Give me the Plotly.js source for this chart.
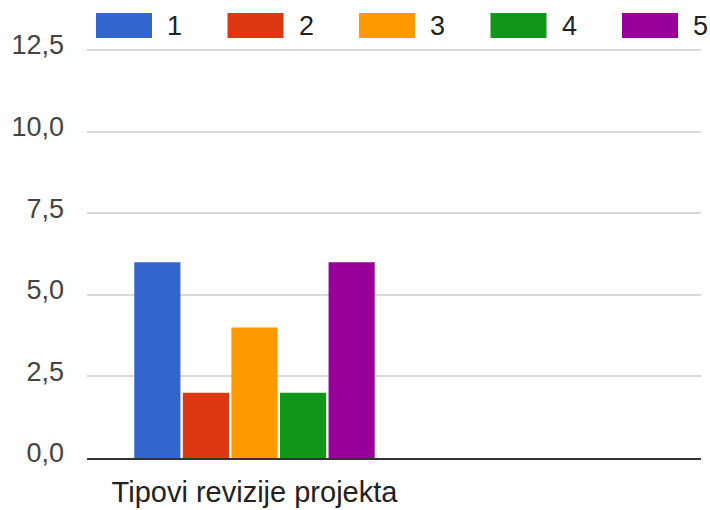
<!DOCTYPE html>
<html>
<head>
<meta charset="utf-8">
<script src="https://cdn.plot.ly/plotly-3.0.1.min.js"></script>
<style>html,body{margin:0;padding:0;background:#fff;}#chart{width:710px;height:510px;}</style>
</head>
<body>
<div id="chart"></div>
<script>
const categories = ["Tipovi revizije projekta"];
const seriesNames = ["1", "2", "3", "4", "5"];
const seriesValues = [[6], [2], [4], [2], [6]];
const seriesColors = ["#3366cc", "#dc3912", "#ff9900", "#109618", "#990099"];
const yTickVals = [0, 2.5, 5, 7.5, 10, 12.5];
const yTickText = ["0,0", "2,5", "5,0", "7,5", "10,0", "12,5"];

const W = 710, H = 510;
const M = {l: 87, r: 9, t: 46, b: 52};
const pw = W - M.l - M.r, ph = H - M.t - M.b;
const yMax = 12.5 * ph / 408;
const px = x => (x - M.l) / pw;
const py = y => (H - M.b - y) / ph;

const traces = seriesNames.map((n, i) => ({
  type: 'bar', name: n, x: categories, y: seriesValues[i],
  marker: {color: seriesColors[i], line: {width: 0}},
  hoverinfo: 'skip', showlegend: false
}));

const shapes = [];
const annotations = [];
seriesNames.forEach((n, i) => {
  const x0 = 96 + i * 131.5;
  shapes.push({type: 'rect', xref: 'paper', yref: 'paper',
    x0: px(x0), x1: px(x0 + 56), y0: py(38), y1: py(13),
    fillcolor: seriesColors[i], line: {width: 0}});
  annotations.push({xref: 'paper', yref: 'paper', x: px(x0 + 69), y: py(25.5),
    xanchor: 'left', yanchor: 'middle', text: n, showarrow: false,
    font: {family: 'Arial, Liberation Sans, sans-serif', size: 27, color: '#222'}});
});

const layout = {
  width: W, height: H, margin: M,
  paper_bgcolor: '#fff', plot_bgcolor: '#fff',
  showlegend: false, barmode: 'group', bargap: 0.275, bargroupgap: 0.05,
  font: {family: 'Arial, Liberation Sans, sans-serif', size: 27, color: '#444'},
  xaxis: {type: 'category', range: [-0.5, 1.333], showgrid: false, zeroline: false,
    showline: true, linecolor: '#333', linewidth: 2, ticks: '',
    tickfont: {size: 29, color: '#222'}, ticklabelstandoff: 7, fixedrange: true},
  yaxis: {range: [0, yMax], tickvals: yTickVals, ticktext: yTickText,
    showgrid: true, gridcolor: '#d9d9d9', gridwidth: 2, zeroline: false,
    showline: false, ticks: '', ticklabelstandoff: 22, ticklabelshift: -5,
    tickfont: {size: 27, color: '#444'}, fixedrange: true},
  shapes: shapes, annotations: annotations
};

Plotly.newPlot('chart', traces, layout, {displayModeBar: false, staticPlot: true});
</script>
</body>
</html>
